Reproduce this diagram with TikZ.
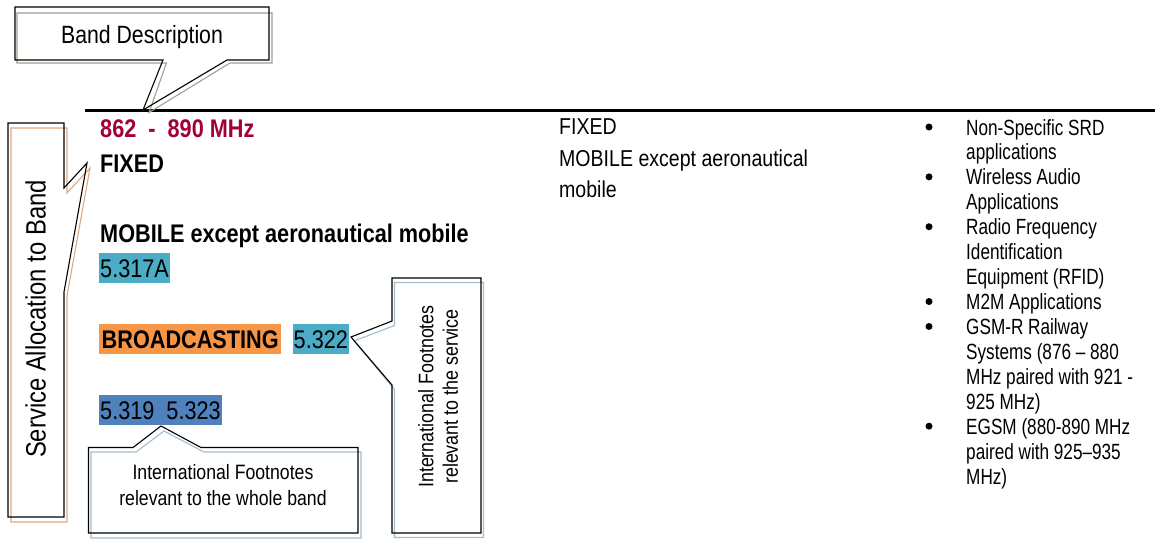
\documentclass[tikz,border=0pt]{standalone}
\usepackage{fontspec}
\setmainfont[FakeStretch=0.85]{Liberation Sans}
\newfontfamily\listfont[FakeStretch=0.78]{Liberation Sans}

\definecolor{bandred}{RGB}{163,0,55}
\definecolor{svcorange}{RGB}{247,150,70}
\definecolor{fncyan}{RGB}{75,172,198}
\definecolor{fnblue}{RGB}{79,129,189}
\definecolor{shadowolive}{RGB}{155,162,140}
\definecolor{shadowtan}{RGB}{222,168,128}
\definecolor{shadowsteel}{RGB}{165,188,204}

\tikzset{
  callout/.style={draw=black, line width=1.1pt},
  calloutshadow/.style={line width=1.1pt},
  alloc/.style={anchor=base west, inner sep=0pt, font=\fontsize{25.5}{30}\selectfont\bfseries},
  footnote/.style={anchor=north west, inner xsep=1pt, inner ysep=0pt, minimum height=30pt,
    text height=18pt, text depth=0pt, font=\fontsize{25.5}{30}\selectfont},
  midline/.style={anchor=base west, inner sep=0pt, font=\fontsize{23}{30}\selectfont},
  appline/.style={anchor=base west, inner sep=0pt, font=\listfont\fontsize{22}{25}\selectfont},
}

\begin{document}
\begin{tikzpicture}[x=1pt,y=-1pt]
    \useasboundingbox (0,0) rectangle (1155,555);

    % Band rule
    \coordinate (ruleL) at (85,110.3);
    \coordinate (ruleR) at (1155,110.3);
    \draw[line width=2.6pt] (ruleL) -- (ruleR);

    % Callout: band description
    \draw[calloutshadow, shadowolive] (17,13) -- (272,13) -- (272,63) -- (230,63) -- (149,112.5) -- (166.5,63) -- (17,63) -- cycle;
    \draw[callout] (15,7) -- (269,7) -- (269,60) -- (227,60) -- (143,110) -- (163,60) -- (15,60) -- cycle;
    \node[anchor=base, inner sep=0pt, font=\fontsize{25}{30}\selectfont] (banddesc) at (142,43.3) {Band Description};

    % Callout: service allocation
    \draw[calloutshadow, shadowtan] (11,128) -- (67,128) -- (67,193) -- (90,168) -- (67,296) -- (67,522) -- (11,522) -- cycle;
    \draw[callout] (8,123) -- (64,123) -- (64,188) -- (87,163) -- (64,292) -- (64,517) -- (8,517) -- cycle;
    \node[anchor=base, rotate=90, inner sep=0pt, font=\fontsize{28}{30}\selectfont] (svcalloc) at (45.5,319) {Service Allocation to Band};

    % Callout: footnotes for the whole band
    \draw[calloutshadow, shadowsteel] (91,452) -- (136,452) -- (164,431) -- (204,452) -- (361,452) -- (361,538) -- (91,538) -- cycle;
    \draw[callout] (88.5,447.5) -- (133,447.5) -- (161,426) -- (201,447.5) -- (358,447.5) -- (358,533) -- (88.5,533) -- cycle;
    \node[align=center, inner sep=0pt, font=\fontsize{20.8}{26}\selectfont] (fnbandnote) at (223,485.5) {International Footnotes\\relevant to the whole band};

    % Callout: footnotes for the service
    \draw[calloutshadow, shadowsteel] (394.5,282.5) -- (483.5,282.5) -- (483.5,537.5) -- (394.5,537.5) -- (394.5,389.5) -- (354,341) -- (394.5,325.5) -- cycle;
    \draw[callout] (392,278) -- (481,278) -- (481,533) -- (392,533) -- (392,385) -- (351,337) -- (392,321) -- cycle;
    \node[align=center, rotate=90, inner sep=0pt, font=\fontsize{21}{24.5}\selectfont] (fnsvcnote) at (438,396.5) {International Footnotes\\relevant to the service};

    % Left column: allocations
    \node[alloc, text=bandred] (band) at (100,137) {862~~-~~890 MHz};
    \node[alloc] (fixed) at (100,172) {FIXED};
    \node[alloc] (mobile) at (100,242) {MOBILE except aeronautical mobile};
    \node[footnote, fill=fncyan] (fn317) at (99,253) {5.317A};
    \node[footnote, fill=svcorange, font=\fontsize{25.5}{30}\selectfont\bfseries, inner xsep=2.5pt] (bcast) at (99,324) {BROADCASTING};
    \node[footnote, fill=fncyan] (fn322) at (292.5,324) {5.322};
    \node[footnote, fill=fnblue] (fnband) at (99,395) {5.319~~5.323};

    % Middle column
    \node[midline] (midfixed) at (559,134) {FIXED};
    \node[midline] (midmobile) at (559,166) {MOBILE except aeronautical};
    \node[midline] (midmobile2) at (559,197) {mobile};

    % Right column: applications
    \foreach \txt [count=\i] in {Non-Specific SRD, applications, Wireless Audio, Applications,
        Radio Frequency, Identification, Equipment (RFID), M2M Applications, GSM-R Railway,
        Systems (876 – 880, MHz paired with 921 -, 925 MHz), EGSM (880-890 MHz,
        paired with 925–935, MHz)}
      \node[appline] (app\i) at (966,{135+(\i-1)*24.93}) {\txt};
    \foreach \i in {1,3,5,8,9,13}
      \fill ([xshift=-37pt,yshift=8pt]app\i.base west) circle (3.5pt);

\end{tikzpicture}
\end{document}
